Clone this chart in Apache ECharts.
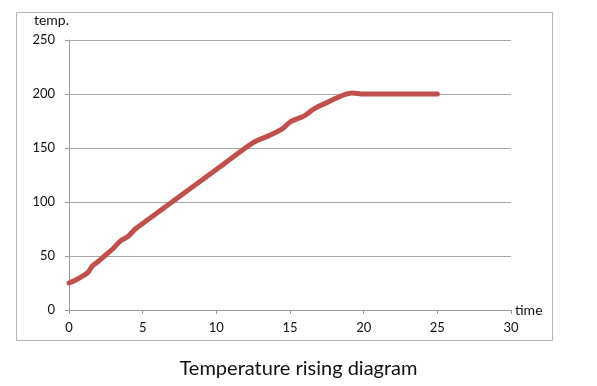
<!DOCTYPE html>
<html><head><meta charset="utf-8">
<script src="https://cdn.jsdelivr.net/npm/echarts@6/dist/echarts.min.js"></script>
<style>html,body{margin:0;padding:0;background:#fff}#c{width:597px;height:386px}</style>
</head><body><div id="c"></div>
<script>
const times = [0, 0.5, 1, 1.3, 1.6, 2, 2.5, 3, 3.5, 4, 4.5, 5, 7.5, 10, 12.5, 13.5, 14.5, 15, 16, 16.6, 17.5, 19.2, 20, 22.5, 25];
const temps = [25, 28, 32, 35, 41, 45, 51, 57, 64, 68, 75, 80, 105, 130, 155, 161, 168, 174, 180, 186, 192, 201, 200, 200, 200];
const xTicks = [0, 5, 10, 15, 20, 25, 30];
const yTicks = [0, 50, 100, 150, 200, 250];
const titleText = 'Temperature rising diagram';

const chart = echarts.init(document.getElementById('c'));
const font = 'Lato, "Open Sans", sans-serif';
chart.setOption({
  animation: false,
  backgroundColor: '#fff',
  graphic: [{type: 'rect', shape: {x: 16.5, y: 12.5, width: 536, height: 328}, style: {fill: 'none', stroke: '#b5b5b5', lineWidth: 1}}],
  title: {text: titleText, left: 'center', top: 354, textStyle: {fontFamily: font, fontWeight: 'normal', fontSize: 20, color: '#111'}},
  grid: {left: 69, right: 86, top: 40, bottom: 76},
  xAxis: {
    type: 'value', min: xTicks[0], max: xTicks[xTicks.length - 1], interval: 5,
    name: 'time', nameLocation: 'end', nameGap: 4,
    nameTextStyle: {fontFamily: font, fontSize: 14, color: '#111'},
    axisLine: {lineStyle: {color: '#999'}},
    axisTick: {show: true, length: 4, lineStyle: {color: '#999'}},
    axisLabel: {margin: 11, fontFamily: font, fontSize: 13, color: '#111'},
    splitLine: {show: false}
  },
  yAxis: {
    type: 'value', min: yTicks[0], max: yTicks[yTicks.length - 1], interval: 50,
    name: 'temp.', nameLocation: 'end', nameGap: 13,
    nameTextStyle: {fontFamily: font, fontSize: 14, color: '#111', align: 'right'},
    axisLine: {show: true, lineStyle: {color: '#999'}},
    axisTick: {show: true, length: 4, lineStyle: {color: '#999'}},
    axisLabel: {margin: 14, fontFamily: font, fontSize: 13, color: '#111'},
    splitLine: {show: true, lineStyle: {color: '#a6a6a6'}}
  },
  series: [{
    type: 'line', data: times.map((t, i) => [t, temps[i]]),
    smooth: 0.3, showSymbol: false,
    lineStyle: {color: '#c0504d', width: 5, cap: 'round', join: 'round'}
  }]
});
</script></body></html>
